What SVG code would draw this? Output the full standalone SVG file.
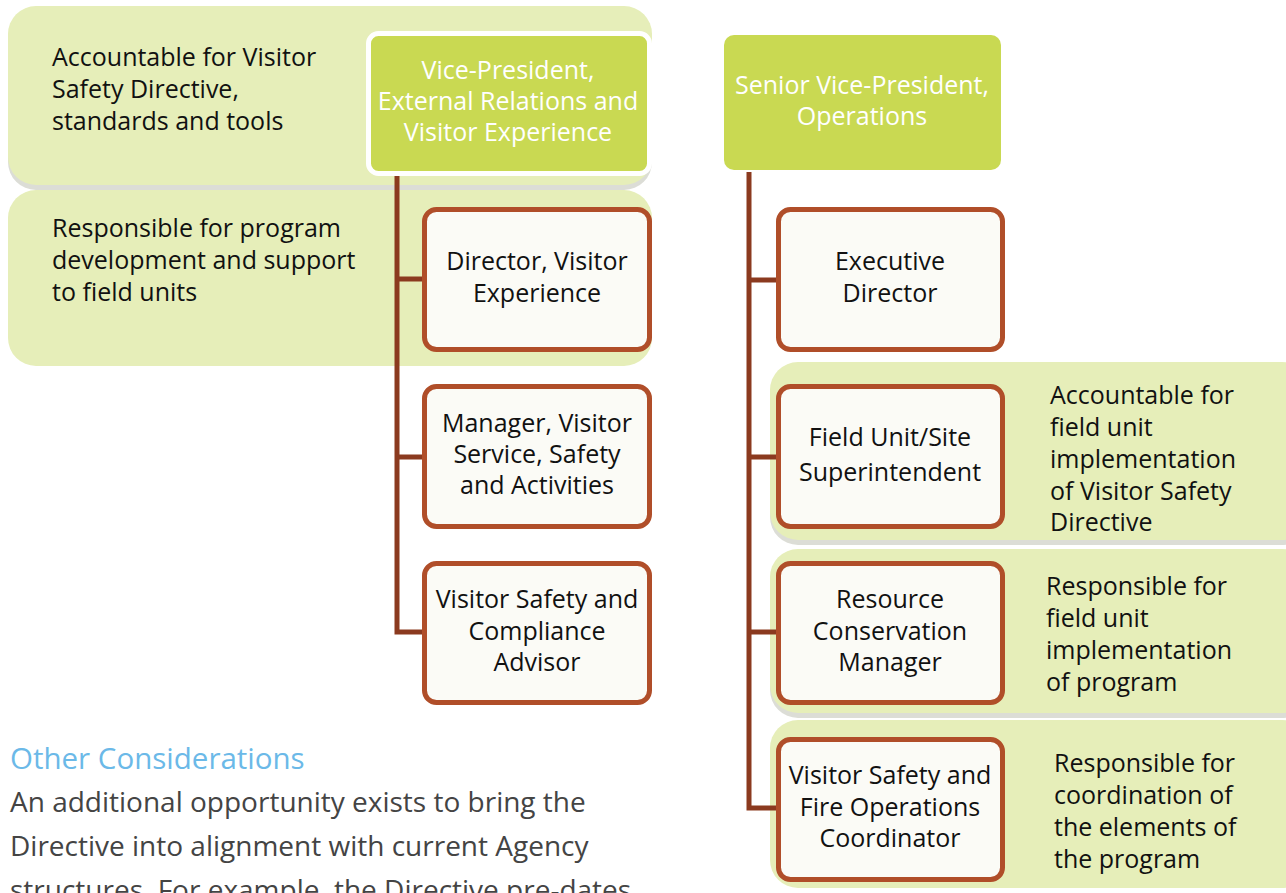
<svg xmlns="http://www.w3.org/2000/svg" width="1286" height="893" viewBox="0 0 1286 893">
<style>
.band{fill:#E6EEB9}
.shadow{fill:#DCDDD6}
.head{fill:#C9D952}
.box{fill:#FBFBF6;stroke:#B04E29;stroke-width:5}
.conn{stroke:#8B3A1F;stroke-width:5;fill:none}
text{font-family:"Open Sans","Noto Sans",sans-serif;font-size:25px;fill:#111}
.c{text-anchor:middle}
.w{fill:#ffffff}
.h2{fill:#6BB9E8;font-size:29.5px}
.body{fill:#444;font-size:28px}
</style>
<rect width="1286" height="893" fill="#ffffff"/>
<g id="band-accountable-left">
<rect class="shadow" x="8" y="11" width="644" height="179" rx="28"/>
<rect class="band" x="8" y="6" width="644" height="179" rx="28"/>
<text x="52" y="66">Accountable for Visitor</text>
<text x="52" y="98">Safety Directive,</text>
<text x="52" y="130">standards and tools</text>
</g>
<g id="band-responsible-left">
<rect class="band" x="8" y="190" width="644" height="176" rx="28"/>
<text x="52" y="237">Responsible for program</text>
<text x="52" y="269">development and support</text>
<text x="52" y="301">to field units</text>
</g>
<g id="band-right-1">
<rect class="shadow" x="770" y="367" width="540" height="178" rx="28"/>
<rect class="band" x="770" y="362" width="540" height="178" rx="28"/>
<text x="1050" y="404">Accountable for</text>
<text x="1050" y="436">field unit</text>
<text x="1050" y="468">implementation</text>
<text x="1050" y="500">of Visitor Safety</text>
<text x="1050" y="531">Directive</text>
</g>
<g id="band-right-2">
<rect class="shadow" x="770" y="554" width="540" height="164" rx="28"/>
<rect class="band" x="770" y="549" width="540" height="164" rx="28"/>
<text x="1046" y="595">Responsible for</text>
<text x="1046" y="627">field unit</text>
<text x="1046" y="659">implementation</text>
<text x="1046" y="691">of program</text>
</g>
<g id="band-right-3">
<rect class="band" x="770" y="720" width="540" height="168" rx="28"/>
<text x="1054" y="772">Responsible for</text>
<text x="1054" y="804">coordination of</text>
<text x="1054" y="836">the elements of</text>
<text x="1054" y="868">the program</text>
</g>
<g id="connectors">
<path class="conn" d="M397 175 V632 H423 M397 279 H423 M397 457 H423"/>
<path class="conn" d="M749 172 V808 H777 M749 280 H777 M749 457 H777 M749 632 H777"/>
</g>
<g id="vp-external">
<rect class="head" x="368.5" y="33.5" width="281" height="140" rx="10" stroke="#ffffff" stroke-width="5"/>
<text class="c w" x="508" y="79">Vice-President,</text>
<text class="c w" x="508" y="110">External Relations and</text>
<text class="c w" x="508" y="141">Visitor Experience</text>
</g>
<g id="svp-operations">
<rect class="head" x="724" y="35" width="277" height="135" rx="10"/>
<text class="c w" x="862" y="94">Senior Vice-President,</text>
<text class="c w" x="862" y="125">Operations</text>
</g>
<g id="director-visitor-experience">
<rect class="box" x="424.5" y="209.5" width="225" height="140" rx="12"/>
<text class="c" x="537" y="270">Director, Visitor</text>
<text class="c" x="537" y="302">Experience</text>
</g>
<g id="manager-visitor-service">
<rect class="box" x="424.5" y="386.5" width="225" height="140" rx="12"/>
<text class="c" x="537" y="432">Manager, Visitor</text>
<text class="c" x="537" y="463">Service, Safety</text>
<text class="c" x="537" y="494">and Activities</text>
</g>
<g id="visitor-safety-compliance">
<rect class="box" x="424.5" y="563.5" width="225" height="139" rx="12"/>
<text class="c" x="537" y="608">Visitor Safety and</text>
<text class="c" x="537" y="640">Compliance</text>
<text class="c" x="537" y="671">Advisor</text>
</g>
<g id="executive-director">
<rect class="box" x="778.5" y="209.5" width="224" height="140" rx="12"/>
<text class="c" x="890" y="270">Executive</text>
<text class="c" x="890" y="302">Director</text>
</g>
<g id="field-unit-superintendent">
<rect class="box" x="778.5" y="386.5" width="224" height="140" rx="12"/>
<text class="c" x="890" y="446">Field Unit/Site</text>
<text class="c" x="890" y="481">Superintendent</text>
</g>
<g id="resource-conservation-manager">
<rect class="box" x="778.5" y="563.5" width="224" height="139" rx="12"/>
<text class="c" x="890" y="608">Resource</text>
<text class="c" x="890" y="640">Conservation</text>
<text class="c" x="890" y="671">Manager</text>
</g>
<g id="visitor-safety-fire-coordinator">
<rect class="box" x="778.5" y="739.5" width="224" height="140" rx="12"/>
<text class="c" x="890" y="784">Visitor Safety and</text>
<text class="c" x="890" y="816">Fire Operations</text>
<text class="c" x="890" y="847">Coordinator</text>
</g>
<g id="other-considerations">
<text class="h2" x="10" y="769">Other Considerations</text>
<text class="body" x="10" y="812">An additional opportunity exists to bring the</text>
<text class="body" x="10" y="856">Directive into alignment with current Agency</text>
<text class="body" x="10" y="900">structures. For example, the Directive pre-dates</text>
</g>
</svg>
